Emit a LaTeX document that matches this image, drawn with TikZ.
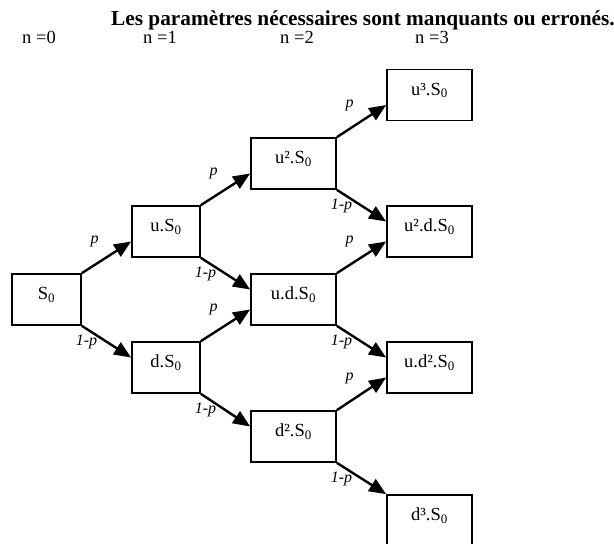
\documentclass[tikz,border=0pt]{standalone}
\usepackage{fontspec}
\setmainfont{Liberation Serif}
\usetikzlibrary{arrows.meta}

\tikzset{
  box/.style={draw, line width=1.7pt, minimum width=85pt, minimum height=51pt,
    inner sep=0pt, text height=12pt, text depth=12pt,
    font=\fontsize{18.5}{20}\selectfont},
  prob/.style={inner sep=0pt, font=\fontsize{16}{18}\selectfont\itshape},
  level/.style={anchor=base west, inner sep=0pt, font=\fontsize{18.5}{20}\selectfont}
}

\begin{document}
\begin{tikzpicture}[x=1pt, y=-1pt, line width=2.4pt, >={Triangle[length=17pt,width=14pt]}]
\clip (0,0) rectangle (614,544);

\node[anchor=base west, inner sep=0pt, font=\fontsize{21.3}{24}\selectfont\bfseries] (title) at (110,25) {Les paramètres nécessaires sont manquants ou erronés.};
\node[level] (n0) at (21,43) {n =0};
\node[level] (n1) at (142,43) {n =1};
\node[level] (n2) at (279,43) {n =2};
\node[level] (n3) at (414,43) {n =3};

\node[box, minimum width=69pt] (s0) at (46.5,299.5) {S\textsubscript{0}};
\node[box, minimum width=68pt] (us) at (166,231.5) {u.S\textsubscript{0}};
\node[box, minimum width=68pt] (ds) at (166,367.5) {d.S\textsubscript{0}};
\node[box] (uus) at (293.5,163.5) {u².S\textsubscript{0}};
\node[box] (uds) at (293.5,299.5) {u.d.S\textsubscript{0}};
\node[box] (dds) at (293.5,436.5) {d².S\textsubscript{0}};
\node[box] (uuus) at (429.5,95) {u³.S\textsubscript{0}};
\node[box] (uuds) at (429.5,231.5) {u².d.S\textsubscript{0}};
\node[box] (udds) at (429.5,367.5) {u.d².S\textsubscript{0}};
\node[box] (ddds) at (429.5,520.5) {d³.S\textsubscript{0}};

% up moves
\draw[->] (s0.north east) -- node[prob, xshift=-12pt, yshift=15.5pt] {p} ([yshift=-10pt]us.west);
\draw[->] (us.north east) -- node[prob, xshift=-12pt, yshift=15.5pt] {p} ([yshift=-10pt]uus.west);
\draw[->] (ds.north east) -- node[prob, xshift=-12pt, yshift=15.5pt] {p} ([yshift=-10pt]uds.west);
\draw[->] (uus.north east) -- node[prob, xshift=-12pt, yshift=15.5pt] {p} ([yshift=-10pt]uuus.west);
\draw[->] (uds.north east) -- node[prob, xshift=-12pt, yshift=15.5pt] {p} ([yshift=-10pt]uuds.west);
\draw[->] (dds.north east) -- node[prob, xshift=-12pt, yshift=15.5pt] {p} ([yshift=-10pt]udds.west);

% down moves
\draw[->] (s0.south east) -- node[prob, xshift=-20pt] {1-p} ([yshift=10pt]ds.west);
\draw[->] (us.south east) -- node[prob, xshift=-20pt] {1-p} ([yshift=10pt]uds.west);
\draw[->] (ds.south east) -- node[prob, xshift=-20pt] {1-p} ([yshift=10pt]dds.west);
\draw[->] (uus.south east) -- node[prob, xshift=-20pt] {1-p} ([yshift=10pt]uuds.west);
\draw[->] (uds.south east) -- node[prob, xshift=-20pt] {1-p} ([yshift=10pt]udds.west);
\draw[->] (dds.south east) -- node[prob, xshift=-20pt] {1-p} (ddds.north west);
\end{tikzpicture}
\end{document}
